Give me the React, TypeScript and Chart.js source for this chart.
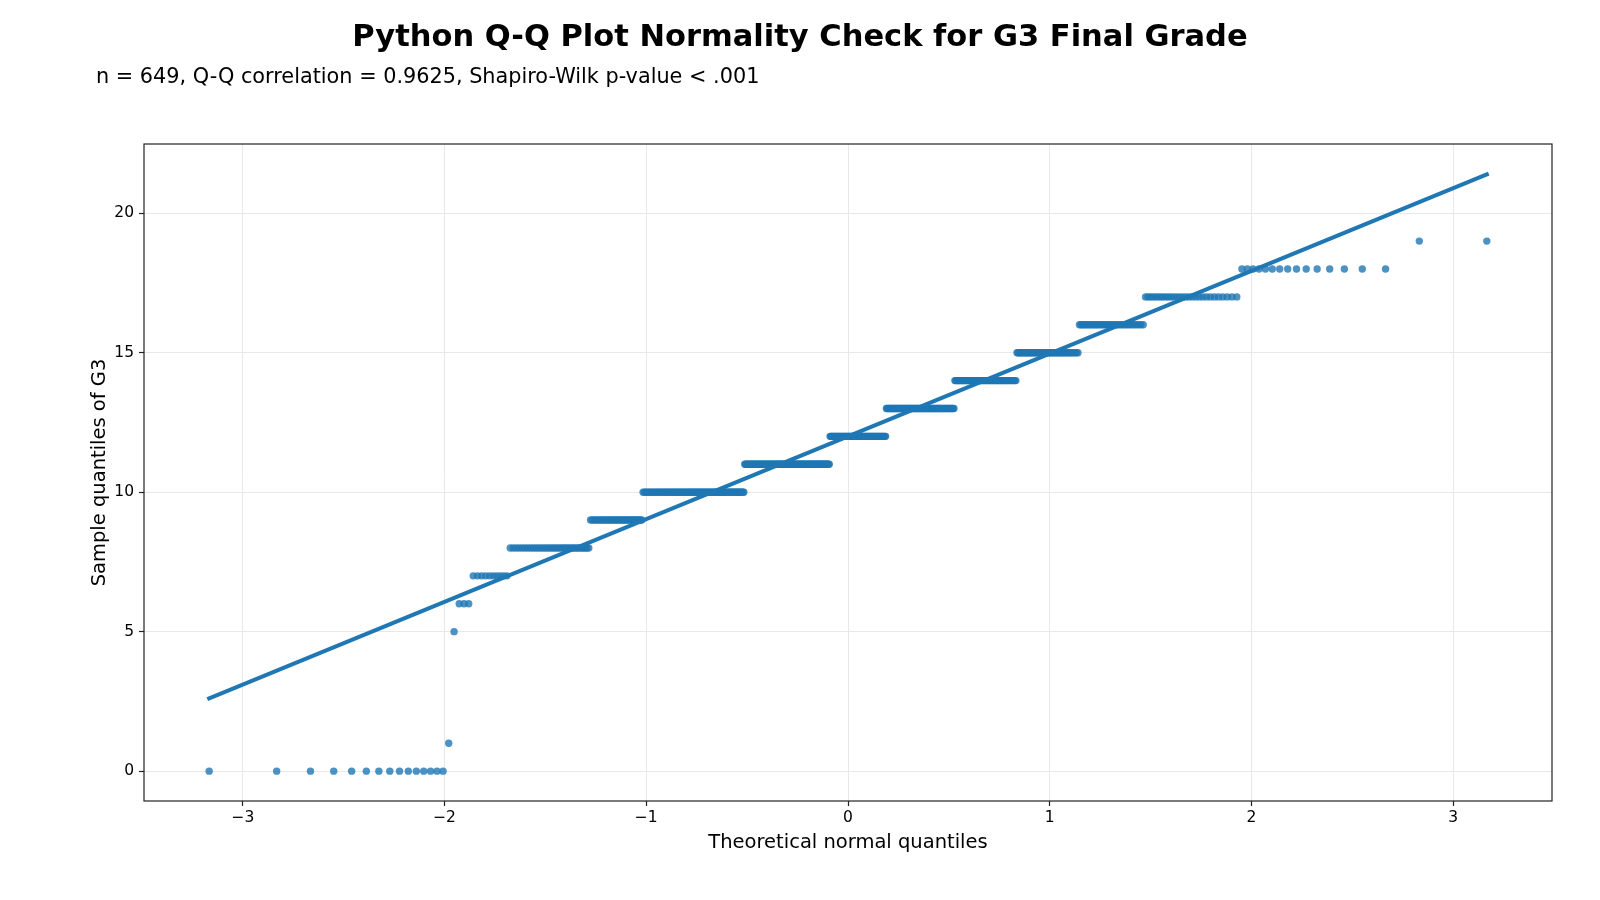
import React, { useEffect, useRef } from "react";
import { Chart, registerables } from "chart.js";

Chart.register(...registerables);

// Final grade (G3) frequency table, n = 649
const grades = [0, 1, 5, 6, 7, 8, 9, 10, 11, 12, 13, 14, 15, 16, 17, 18, 19];
const gradeCounts = [15, 1, 1, 3, 10, 35, 35, 97, 104, 72, 82, 63, 49, 36, 29, 15, 2];

// Axis ticks
const xTicks = [-3, -2, -1, 0, 1, 2, 3];
const yTicks = [0, 5, 10, 15, 20];

// Reference line through the sample quartiles (Q1 = 10, Q3 = 14)
const refLineIntercept = 12;
const refLineSlope = 2.965;

const titleText = "Python Q-Q Plot Normality Check for G3 Final Grade";
const subtitleText = "n = 649, Q-Q correlation = 0.9625, Shapiro-Wilk p-value < .001";
const xAxisTitle = "Theoretical normal quantiles";
const yAxisTitle = "Sample quantiles of G3";

const FONT = "'DejaVu Sans', 'Liberation Sans', sans-serif";
const BLUE = "#1f77b4";

// Inverse standard normal CDF (Acklam's rational approximation)
function normInv(p: number): number {
  const a = [-3.969683028665376e1, 2.209460984245205e2, -2.759285104469687e2, 1.38357751867269e2, -3.066479806614716e1, 2.506628277459239];
  const b = [-5.447609879822406e1, 1.615858368580409e2, -1.556989798598866e2, 6.680131188771972e1, -1.328068155288572e1];
  const c = [-7.784894002430293e-3, -3.223964580411365e-1, -2.400758276141816, -2.549732539343734, 4.374664141464968, 2.938163982698783];
  const d = [7.784695709041462e-3, 3.224671290700398e-1, 2.445134137142996, 3.754408661907416];
  const pLow = 0.02425;
  if (p < pLow) {
    const q = Math.sqrt(-2 * Math.log(p));
    return (((((c[0] * q + c[1]) * q + c[2]) * q + c[3]) * q + c[4]) * q + c[5]) / ((((d[0] * q + d[1]) * q + d[2]) * q + d[3]) * q + 1);
  }
  if (p <= 1 - pLow) {
    const q = p - 0.5;
    const r = q * q;
    return ((((((a[0] * r + a[1]) * r + a[2]) * r + a[3]) * r + a[4]) * r + a[5]) * q) / (((((b[0] * r + b[1]) * r + b[2]) * r + b[3]) * r + b[4]) * r + 1);
  }
  const q = Math.sqrt(-2 * Math.log(1 - p));
  return -(((((c[0] * q + c[1]) * q + c[2]) * q + c[3]) * q + c[4]) * q + c[5]) / ((((d[0] * q + d[1]) * q + d[2]) * q + d[3]) * q + 1);
}

// Sorted sample paired with theoretical normal quantiles, plotting position (i - 0.5) / n
function buildQQPoints() {
  const sample: number[] = [];
  grades.forEach((g, i) => {
    for (let k = 0; k < gradeCounts[i]; k++) sample.push(g);
  });
  const n = sample.length;
  return sample.map((y, i) => ({ x: normInv((i + 0.5) / n), y }));
}

const fmtTick = (v: number) => (v < 0 ? "\u2212" + Math.abs(v) : String(v));

const textPlugin = {
  id: "qqText",
  afterDraw(chart: any) {
    const { ctx, chartArea: a } = chart;
    ctx.save();
    ctx.strokeStyle = "#222";
    ctx.lineWidth = 1.2;
    ctx.strokeRect(a.left, a.top, a.right - a.left, a.bottom - a.top);

    ctx.fillStyle = "#000";
    ctx.textBaseline = "alphabetic";
    ctx.textAlign = "center";
    ctx.font = `bold 30.5px ${FONT}`;
    ctx.fillText(titleText, 800, 45.5);

    ctx.textAlign = "left";
    ctx.font = `20.8px ${FONT}`;
    ctx.fillText(subtitleText, 96, 83);

    ctx.textAlign = "center";
    ctx.font = `19.5px ${FONT}`;
    ctx.fillText(xAxisTitle, (a.left + a.right) / 2, 847.5);

    ctx.translate(105, (a.top + a.bottom) / 2);
    ctx.rotate(-Math.PI / 2);
    ctx.fillText(yAxisTitle, 0, 0);
    ctx.restore();
  },
};

export default function App() {
  const canvasRef = useRef<HTMLCanvasElement | null>(null);

  useEffect(() => {
    const canvas = canvasRef.current;
    if (!canvas) return;
    const points = buildQQPoints();
    const xMin = points[0].x;
    const xMax = points[points.length - 1].x;
    const linePoints = [
      { x: xMin, y: refLineIntercept + refLineSlope * xMin },
      { x: xMax, y: refLineIntercept + refLineSlope * xMax },
    ];

    const axisGrid = {
      color: "#e8e8e8",
      lineWidth: 1,
      tickLength: 5,
      tickColor: "#222",
      tickWidth: 1.2,
    };

    const chart = new Chart(canvas, {
      type: "scatter",
      data: {
        datasets: [
          {
            label: "Reference line",
            data: linePoints,
            showLine: true,
            borderColor: BLUE,
            borderWidth: 4,
            borderCapStyle: "square",
            pointRadius: 0,
            order: 0,
          } as any,
          {
            label: "G3",
            data: points,
            backgroundColor: "rgba(31,119,180,0.8)",
            borderWidth: 0,
            pointRadius: 3.7,
            order: 1,
          },
        ],
      },
      options: {
        responsive: false,
        animation: false,
        devicePixelRatio: 1,
        layout: { padding: { top: 144, right: 48, bottom: 0, left: 0 } },
        plugins: {
          legend: { display: false },
          tooltip: { enabled: false },
          title: { display: false },
        },
        scales: {
          x: {
            type: "linear",
            min: -3.49,
            max: 3.49,
            afterFit: (s: any) => {
              s.height = 99;
            },
            afterBuildTicks: (s: any) => {
              s.ticks = xTicks.map((v) => ({ value: v }));
            },
            grid: axisGrid,
            border: { display: false },
            ticks: {
              color: "#000",
              font: { family: FONT, size: 15.5 },
              padding: 3,
              maxRotation: 0,
              autoSkip: false,
              callback: (v: any) => fmtTick(Number(v)),
            },
          },
          y: {
            type: "linear",
            min: -1.07,
            max: 22.48,
            afterFit: (s: any) => {
              s.width = 144;
            },
            afterBuildTicks: (s: any) => {
              s.ticks = yTicks.map((v) => ({ value: v }));
            },
            grid: axisGrid,
            border: { display: false },
            ticks: {
              color: "#000",
              font: { family: FONT, size: 15.5 },
              padding: 5,
              autoSkip: false,
              callback: (v: any) => fmtTick(Number(v)),
            },
          },
        },
      },
      plugins: [textPlugin],
    });

    return () => chart.destroy();
  }, []);

  return (
    <div style={{ position: "absolute", left: 0, top: 0, width: 1600, height: 900, background: "#fff" }}>
      <canvas ref={canvasRef} width={1600} height={900} style={{ width: 1600, height: 900 }} />
    </div>
  );
}
